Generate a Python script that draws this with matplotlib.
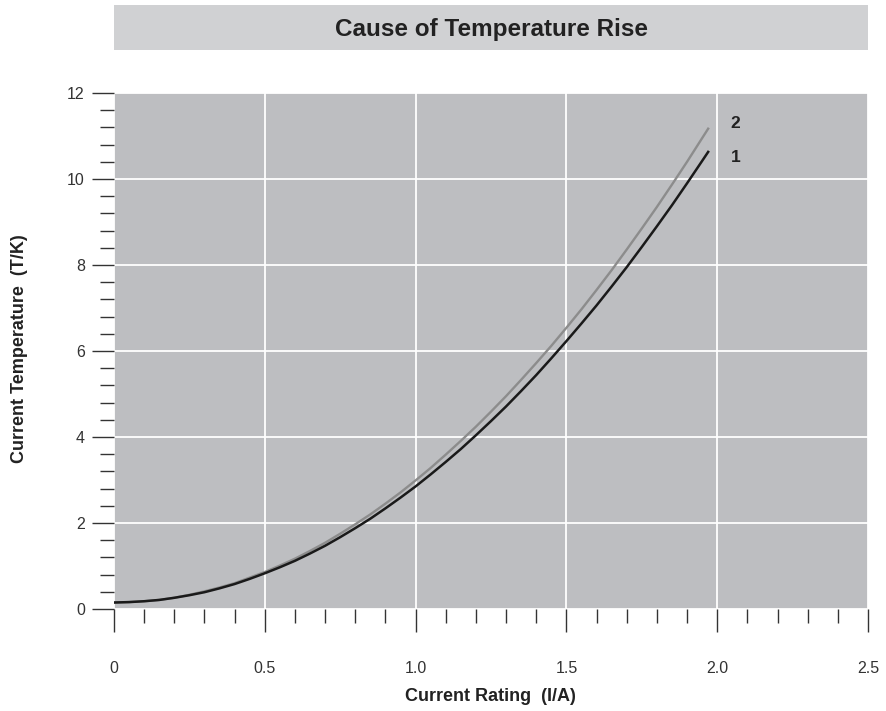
import matplotlib
matplotlib.use("Agg")
from matplotlib import pyplot as plt
from matplotlib.patches import Rectangle
from matplotlib.ticker import MultipleLocator

plt.rcParams['font.family'] = ['Liberation Sans', 'DejaVu Sans']

# values
current = [0, 0.05, 0.1, 0.15, 0.2, 0.25, 0.3, 0.35, 0.4, 0.45, 0.5,
           0.55, 0.6, 0.65, 0.7, 0.75, 0.8, 0.85, 0.9, 0.95, 1.0,
           1.05, 1.1, 1.15, 1.2, 1.25, 1.3, 1.35, 1.4, 1.45, 1.5,
           1.55, 1.6, 1.65, 1.7, 1.75, 1.8, 1.85, 1.9, 1.95, 1.97]
temp_1 = [0.15, 0.16, 0.18, 0.21, 0.26, 0.32, 0.39, 0.48, 0.58, 0.70, 0.83,
          0.97, 1.12, 1.29, 1.47, 1.67, 1.88, 2.10, 2.34, 2.59, 2.85,
          3.13, 3.42, 3.72, 4.04, 4.37, 4.71, 5.07, 5.44, 5.83, 6.23,
          6.64, 7.06, 7.50, 7.95, 8.42, 8.90, 9.39, 9.90, 10.42, 10.63]
temp_2 = [0.15, 0.16, 0.18, 0.21, 0.26, 0.33, 0.41, 0.50, 0.60, 0.73, 0.86,
          1.01, 1.17, 1.35, 1.54, 1.75, 1.97, 2.20, 2.45, 2.71, 2.99,
          3.28, 3.59, 3.91, 4.24, 4.59, 4.95, 5.33, 5.72, 6.12, 6.54,
          6.97, 7.42, 7.88, 8.36, 8.85, 9.35, 9.87, 10.40, 10.95, 11.17]
curve_labels = ["1", "2"]
label_y = [10.5, 11.3]

title = "Cause of Temperature Rise"
x_label = "Current Rating  (I/A)"
y_label = "Current Temperature  (T/K)"

fig = plt.figure(figsize=(8.87, 7.11), dpi=100)
ax = fig.add_axes([0.1285, 0.1435, 0.8501, 0.7257])

# title band
fig.patches.append(Rectangle((0.1285, 0.9297), 0.8501, 0.0633,
                             transform=fig.transFigure, facecolor="#d0d1d3",
                             edgecolor="none", zorder=0))
fig.text(0.554, 0.9585, title, ha="center", va="center",
         fontsize=17.5, fontweight="bold", color="#222222")

ax.set_facecolor("#bdbec1")
ax.plot(current, temp_2, color="#8c8c8c", linewidth=1.7, zorder=3)
ax.plot(current, temp_1, color="#1a1a1a", linewidth=1.8, zorder=4)

for lab, yy in zip(curve_labels, label_y):
    ax.text(2.045, yy, lab, fontsize=12.5, fontweight="bold", color="#222222",
            va="center", ha="left")

ax.set_xlim(0, 2.5)
ax.set_ylim(0, 12)
ax.xaxis.set_major_locator(MultipleLocator(0.5))
ax.xaxis.set_minor_locator(MultipleLocator(0.1))
ax.yaxis.set_major_locator(MultipleLocator(2))
ax.yaxis.set_minor_locator(MultipleLocator(0.4))
ax.set_xticks([0, 0.5, 1.0, 1.5, 2.0, 2.5])
ax.set_xticklabels(["0", "0.5", "1.0", "1.5", "2.0", "2.5"])

ax.grid(True, which="major", color="white", linewidth=1.3)
ax.set_axisbelow(True)
for s in ax.spines.values():
    s.set_visible(False)

ax.tick_params(axis="x", which="major", length=16.5, width=1, color="#333333",
               pad=21, labelsize=11.5, labelcolor="#333333")
ax.tick_params(axis="x", which="minor", length=10, width=1, color="#333333")
ax.tick_params(axis="y", which="major", length=16, width=1, color="#333333",
               pad=5, labelsize=11.5, labelcolor="#333333")
ax.tick_params(axis="y", which="minor", length=10, width=1, color="#333333")

fig.text(0.553, 0.0197, x_label, ha="center", va="center",
         fontsize=13, fontweight="bold", color="#222222")
fig.text(0.0215, 0.509, y_label, ha="center", va="center", rotation=90,
         fontsize=13, fontweight="bold", color="#222222")

fig.savefig("out.png", dpi=100)
